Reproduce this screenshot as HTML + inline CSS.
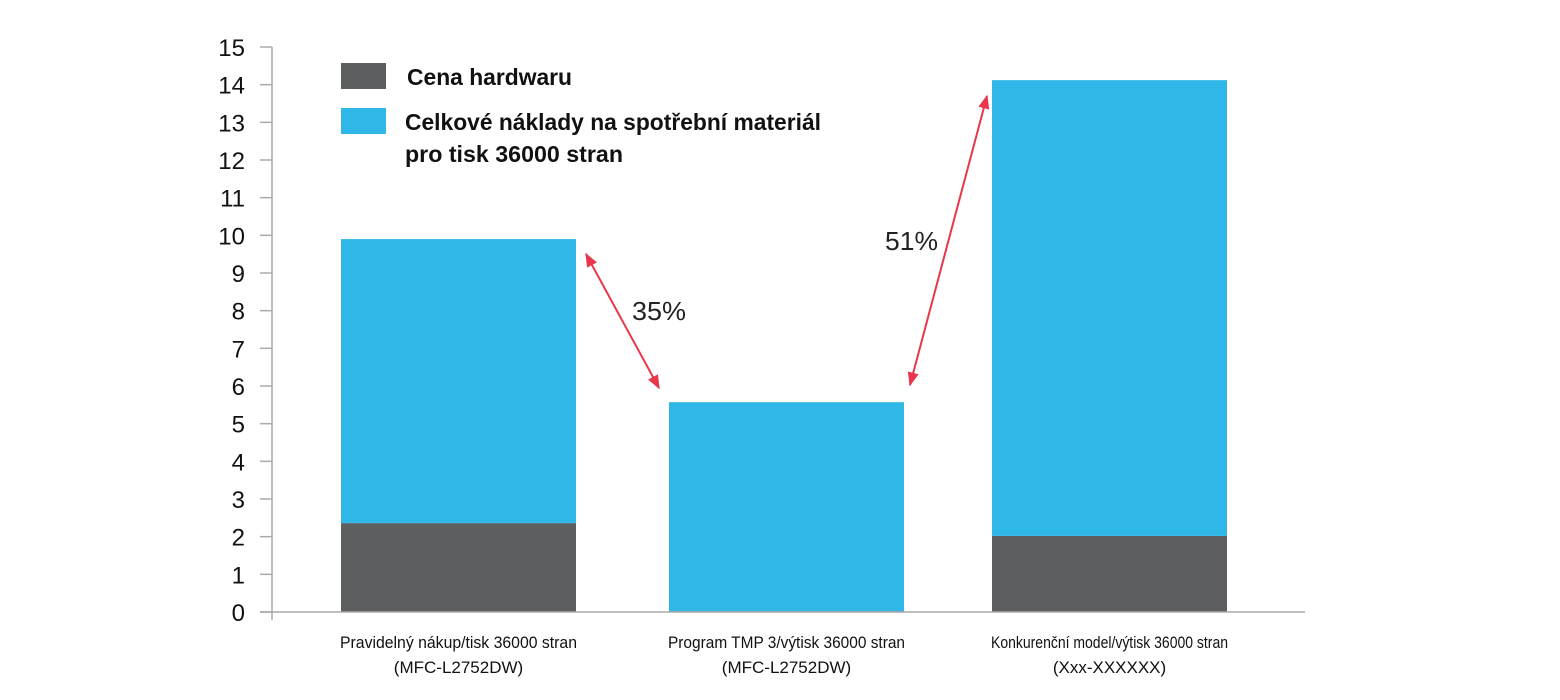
<!DOCTYPE html>
<html><head><meta charset="utf-8"><style>
body{margin:0;background:#fff}
svg{display:block;font-family:"Liberation Sans",sans-serif}
</style></head><body>
<svg id="chart" width="1560" height="700" viewBox="0 0 1560 700">
<defs><marker id="ah" viewBox="0 0 10 10" refX="9" refY="5" markerWidth="7" markerHeight="7" orient="auto-start-reverse"><path d="M0,1 L10,5 L0,9 z" fill="#e8374a"/></marker></defs>
<g id="axis"></g>
<g id="bars"></g>
<g id="legend">
<rect x="341" y="63" width="45" height="26" fill="#5d5e60"/>
<text x="407" y="85" font-size="23" font-weight="bold" fill="#111" textLength="165" lengthAdjust="spacingAndGlyphs">Cena hardwaru</text>
<rect x="341" y="108" width="45" height="26" fill="#2eb7e7"/>
<text x="405" y="130" font-size="23" font-weight="bold" fill="#111" textLength="416" lengthAdjust="spacingAndGlyphs">Celkové náklady na spotřební materiál</text>
<text x="405" y="162" font-size="23" font-weight="bold" fill="#111" textLength="218" lengthAdjust="spacingAndGlyphs">pro tisk 36000 stran</text>
</g>
<g>
<line x1="586" y1="254" x2="659" y2="388" stroke="#e8374a" stroke-width="2" marker-start="url(#ah)" marker-end="url(#ah)"/>
<text x="632" y="320" font-size="26" fill="#222" textLength="54" lengthAdjust="spacingAndGlyphs">35%</text>
<line x1="910" y1="385" x2="987" y2="96" stroke="#e8374a" stroke-width="2" marker-start="url(#ah)" marker-end="url(#ah)"/>
<text x="885" y="250" font-size="26" fill="#222" textLength="53" lengthAdjust="spacingAndGlyphs">51%</text>
</g>
</svg>
<script>
const categories=["Pravidelný nákup/tisk 36000 stran","Program TMP 3/výtisk 36000 stran","Konkurenční model/výtisk 36000 stran"];
const subLabels=["(MFC-L2752DW)","(MFC-L2752DW)","(Xxx-XXXXXX)"];
const hardware=[2.36,0.02,2.02];
const supplies=[7.54,5.55,12.1];
const yTicks=[0,1,2,3,4,5,6,7,8,9,10,11,12,13,14,15];
const NS="http://www.w3.org/2000/svg";
const y0=612,yTop=47,yMax=15;
function y(v){return y0-(v/yMax)*(y0-yTop);}
const barX=[341,669,992],barW=235;
function mk(t,a,p){const e=document.createElementNS(NS,t);for(const k in a)e.setAttribute(k,a[k]);p.appendChild(e);return e;}
const ax=document.getElementById('axis');
let l=mk('line',{x1:272,y1:47,x2:272,y2:620,stroke:'#aaa','stroke-width':1.5},ax);


yTicks.forEach(t=>{
 const tk=mk('line',{x1:260,y1:y(t),x2:272,y2:y(t),stroke:'#aaa','stroke-width':1.5},ax);
 
 
 const tx=mk('text',{x:245,y:y(t)+9,'font-size':24,'text-anchor':'end',fill:'#111'},ax);
 
 
 tx.textContent=t;
});
const bg=document.getElementById('bars');
categories.forEach((c,i)=>{
 const x=barX[i];
 const h=mk('rect',{x:x,y:y(hardware[i]),width:barW,height:y0-y(hardware[i]),fill:'#5d5e60'},bg);
 
 
 const top=hardware[i]+supplies[i];
 const s=mk('rect',{x:x,y:y(top),width:barW,height:y(hardware[i])-y(top),fill:'#2eb7e7'},bg);
 
 
 const t1=mk('text',{x:x+barW/2,y:648,'font-size':17,'text-anchor':'middle',fill:'#111'},bg);
 
 
 t1.setAttribute('textLength',237);
 t1.setAttribute('lengthAdjust','spacingAndGlyphs');
 t1.textContent=c;
 const t2=mk('text',{x:x+barW/2,y:673,'font-size':17,'text-anchor':'middle',fill:'#111'},bg);
 
 
 t2.textContent=subLabels[i];
});
const base=mk('line',{x1:260,y1:y0,x2:1305,y2:y0,stroke:'#aaa','stroke-width':1.5},bg);


</script>
</body></html>
